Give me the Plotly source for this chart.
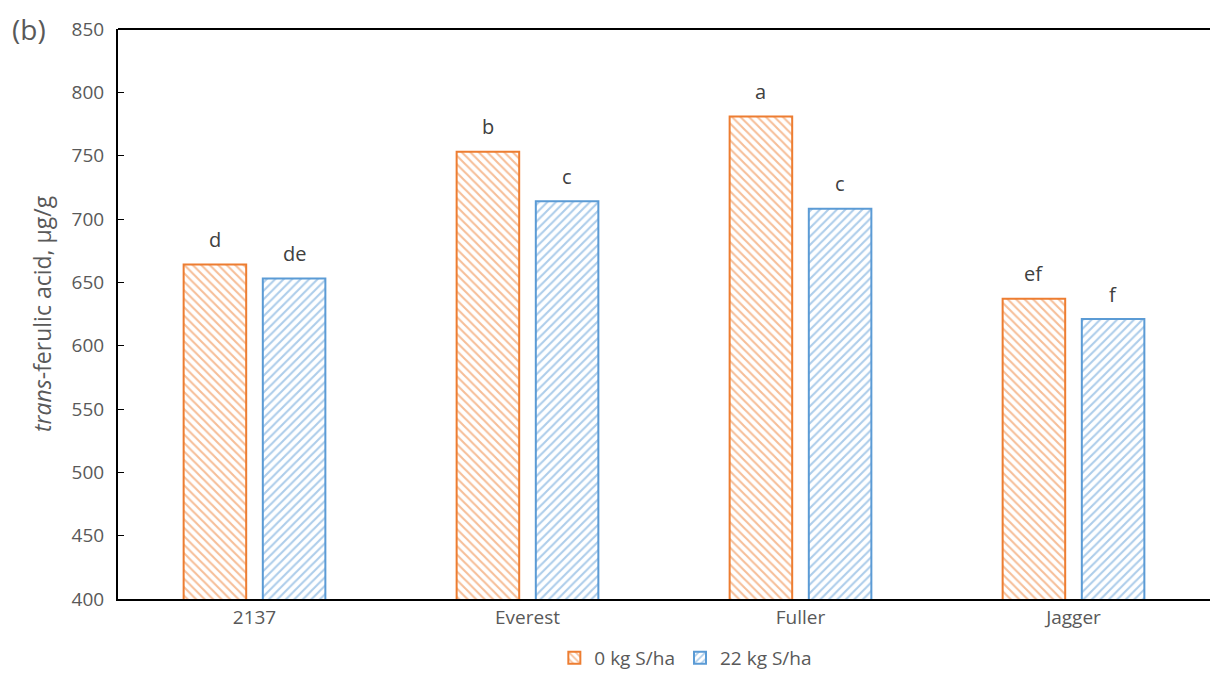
import plotly.graph_objects as go

cultivars = ["2137", "Everest", "Fuller", "Jagger"]
s0_values = [664, 753, 781, 637]
s22_values = [653, 714, 708, 621]
s0_letters = ["d", "b", "a", "ef"]
s22_letters = ["de", "c", "c", "f"]
y_ticks = [400, 450, 500, 550, 600, 650, 700, 750, 800, 850]

ORANGE = "#ED7D31"
BLUE = "#5B9BD5"
GREY = "#595959"
FONT = "Open Sans"

fig = go.Figure()
series = [
    ("0 kg S/ha", s0_values, s0_letters, ORANGE, "\\", 0),
    ("22 kg S/ha", s22_values, s22_letters, BLUE, "/", 1),
]
for name, vals, letters, color, shape, idx in series:
    fig.add_trace(go.Bar(
        name=name, x=cultivars, y=vals, offsetgroup=str(idx),
        marker=dict(color="white", line=dict(color=color, width=2),
                    pattern=dict(shape=shape, fgcolor=color, bgcolor="white",
                                 size=6, solidity=0.35)),
    ))

# significance letters above each bar
for name, vals, letters, color, shape, idx in series:
    for i, (v, t) in enumerate(zip(vals, letters)):
        fig.add_annotation(x=i + (-0.145 if idx == 0 else 0.145), y=v, xref="x", yref="y",
                           text=t, showarrow=False, yanchor="middle", yshift=25,
                           font=dict(family=FONT, size=20, color="#404040"))

fig.update_layout(
    width=1210, height=677,
    margin=dict(l=118, r=0, t=29, b=72),
    paper_bgcolor="white", plot_bgcolor="white",
    barmode="group", bargap=0.42, bargroupgap=0.21,
    font=dict(family=FONT, size=19, color=GREY),
    legend=dict(orientation="h", x=0.52, xanchor="center", y=-0.07, yanchor="top",
                font=dict(family=FONT, size=19, color=GREY), itemwidth=30,
                traceorder="normal"),
    showlegend=True,
)
fig.update_xaxes(showline=True, linecolor="black", linewidth=2, mirror=False,
                 ticks="", showgrid=False, tickfont=dict(size=19, color=GREY),
                 range=[-0.5, 3.5])
fig.update_yaxes(range=[400, 850], tickvals=y_ticks, showline=True, linecolor="black",
                 linewidth=2, ticks="inside", ticklen=6, tickcolor="black",
                 showgrid=False, zeroline=False, tickfont=dict(size=19, color=GREY),
                 ticklabelstandoff=8,
                 title=dict(text="<i>trans</i>-ferulic acid, µg/g", standoff=14,
                            font=dict(size=23, color=GREY)))
# top border of the plot area
fig.add_shape(type="line", xref="paper", yref="paper", x0=0, x1=1, y0=1, y1=1,
              line=dict(color="black", width=2))
fig.add_annotation(text="(b)", xref="paper", yref="paper", x=-0.099, y=1.0,
                   xanchor="left", yanchor="middle", showarrow=False,
                   font=dict(family=FONT, size=28, color=GREY))

fig.write_html("out.html")
